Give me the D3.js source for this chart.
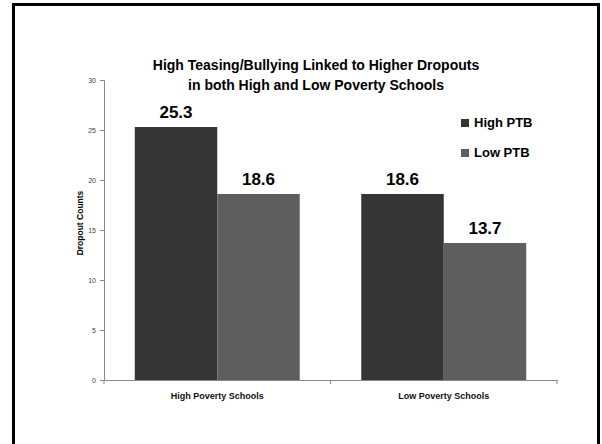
<!DOCTYPE html>
<html>
<head>
<meta charset="utf-8">
<script src="https://cdn.jsdelivr.net/npm/d3@7"></script>
<style>
  body { margin: 0; background: #fff; }
  text { font-family: "Liberation Sans", Arial, sans-serif; }
</style>
</head>
<body>
<div id="chart"></div>
<script>
// data
const categories = ["High Poverty Schools", "Low Poverty Schools"];
const seriesNames = ["High PTB", "Low PTB"];
const highPTB = [25.3, 18.6];
const lowPTB = [18.6, 13.7];
const yTicks = [0, 5, 10, 15, 20, 25, 30];
const titleLines = ["High Teasing/Bullying Linked to Higher Dropouts", "in both High and Low Poverty Schools"];

let width = 602, height = 444;
let colors = ["#353535", "#5e5e5e"];

let svg = d3.select("#chart").append("svg")
    .attr("width", width)
    .attr("height", height);

// slide frame
svg.append("rect")
    .attr("x", 13.5).attr("y", 4.5)
    .attr("width", 585).attr("height", 470)
    .attr("fill", "none")
    .attr("stroke", "#000")
    .attr("stroke-width", 3);

// Scales
let x = d3.scaleBand()
    .domain(categories)
    .range([104, 557])
    .padding(0);

let xSub = d3.scaleBand()
    .domain(seriesNames)
    .range([0, x.bandwidth()])
    .paddingInner(0)
    .paddingOuter(0.373);

let y = d3.scaleLinear()
    .domain([0, 30])
    .range([380, 80]);

let rows = categories.map((c, i) => ({
    category: c,
    values: [
        {series: seriesNames[0], value: highPTB[i]},
        {series: seriesNames[1], value: lowPTB[i]}
    ]
}));

// Axes
let yAxis = svg.append("g")
    .attr("transform", "translate(104,0)")
    .call(d3.axisLeft(y).tickValues(yTicks).tickSize(4).tickPadding(4));
yAxis.select(".domain").attr("stroke", "#888");
yAxis.selectAll(".tick line").attr("stroke", "#888");
yAxis.selectAll(".tick text")
    .attr("fill", "#444")
    .style("font-size", "7px");

let xAxis = svg.append("g")
    .attr("transform", "translate(0,380)")
    .call(d3.axisBottom(x).tickValues([]).tickSizeOuter(0));
xAxis.select(".domain").attr("stroke", "#888");
xAxis.selectAll(".sep")
    .data([104, 104 + x.bandwidth(), 557])
    .enter().append("line")
    .attr("class", "sep")
    .attr("x1", d => d).attr("x2", d => d)
    .attr("y1", 0).attr("y2", 4)
    .attr("stroke", "#888");

svg.append("g").selectAll("text")
    .data(categories)
    .enter().append("text")
    .attr("x", d => x(d) + x.bandwidth() / 2)
    .attr("y", 399)
    .attr("text-anchor", "middle")
    .style("font-size", "9px")
    .style("font-weight", "bold")
    .attr("fill", "#111")
    .text(d => d);

// Bars
let groups = svg.append("g").selectAll("g")
    .data(rows)
    .enter().append("g")
    .attr("transform", d => "translate(" + x(d.category) + ",0)");

groups.selectAll("rect")
    .data(d => d.values)
    .enter().append("rect")
    .attr("x", d => xSub(d.series))
    .attr("y", d => y(d.value))
    .attr("width", xSub.bandwidth())
    .attr("height", d => y(0) - y(d.value))
    .attr("fill", (d, i) => colors[i]);

groups.selectAll("text")
    .data(d => d.values)
    .enter().append("text")
    .attr("x", d => xSub(d.series) + xSub.bandwidth() / 2)
    .attr("y", d => y(d.value) - 9)
    .attr("text-anchor", "middle")
    .style("font-size", "17px")
    .style("font-weight", "bold")
    .attr("fill", "#000")
    .text(d => d.value.toFixed(1));

// Title
svg.append("text")
    .attr("text-anchor", "middle")
    .style("font-size", "14px")
    .style("font-weight", "bold")
    .selectAll("tspan")
    .data(titleLines)
    .enter().append("tspan")
    .attr("x", 316)
    .attr("y", (d, i) => 70 + i * 20)
    .text(d => d);

// Y axis label
svg.append("text")
    .attr("transform", "translate(83,223) rotate(-90)")
    .attr("text-anchor", "middle")
    .style("font-size", "8.5px")
    .style("font-weight", "bold")
    .text("Dropout Counts");

// Legend
let legend = svg.append("g").selectAll("g")
    .data(seriesNames)
    .enter().append("g")
    .attr("transform", (d, i) => "translate(461," + (119 + i * 30) + ")");

legend.append("rect")
    .attr("width", 8).attr("height", 8)
    .attr("fill", (d, i) => colors[i]);

legend.append("text")
    .attr("x", 13)
    .attr("y", 8)
    .style("font-size", "13px")
    .style("font-weight", "bold")
    .text(d => d);
</script>
</body>
</html>
